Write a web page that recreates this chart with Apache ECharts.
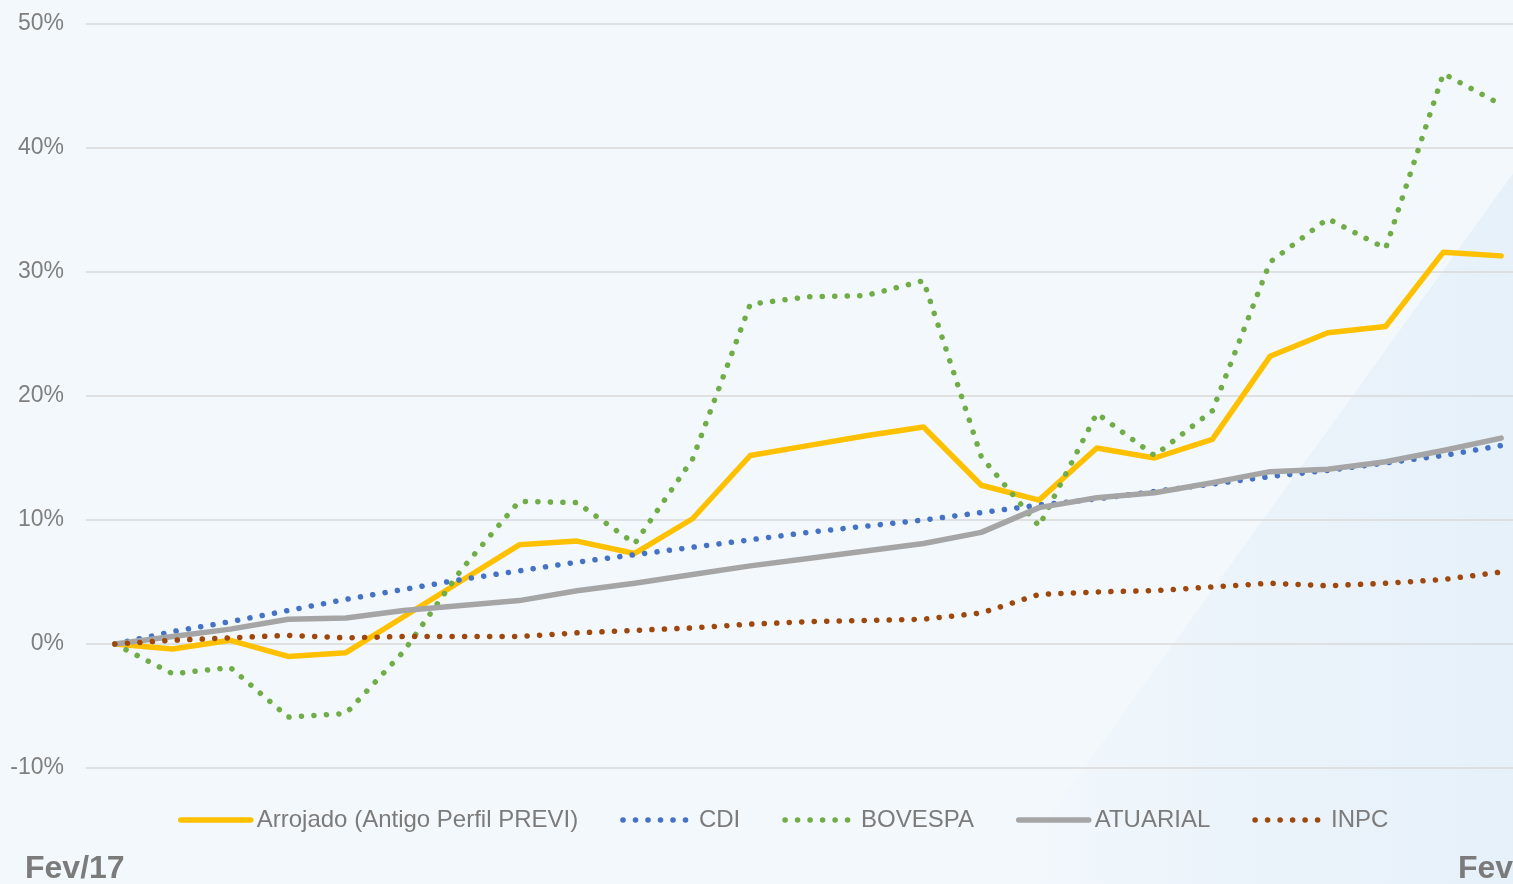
<!DOCTYPE html>
<html>
<head>
<meta charset="utf-8">
<title>Rentabilidade acumulada</title>
<script src="https://cdn.jsdelivr.net/npm/echarts@6/dist/echarts.min.js"></script>
<style>
  html, body { margin: 0; padding: 0; background: #f3f8fc; overflow: hidden; }
  /* the plot runs a little past the right edge of the window, as in the original */
  #chart { width: 1530px; height: 884px; }
</style>
</head>
<body>
<div id="chart"></div>
<script>
// meses de fev/17 a fev/19
const months = ['fev/17', 'mar/17', 'abr/17', 'mai/17', 'jun/17', 'jul/17', 'ago/17', 'set/17', 'out/17', 'nov/17', 'dez/17',
  'jan/18', 'fev/18', 'mar/18', 'abr/18', 'mai/18', 'jun/18', 'jul/18', 'ago/18', 'set/18', 'out/18', 'nov/18', 'dez/18',
  'jan/19', 'fev/19']

const arrojado = [0, -0.4, 0.3, -1.0, -0.7, 2.2, 5.1, 8.0, 8.3, 7.3, 10.1, 15.2, 16.0, 16.8, 17.5, 12.8, 11.6, 15.8, 15.0, 16.5, 23.2, 25.1, 25.6, 31.6, 31.3]
const cdi = [0, 1.0, 1.8, 2.7, 3.6, 4.4, 5.2, 5.9, 6.6, 7.2, 7.8, 8.4, 9.0, 9.5, 10.0, 10.6, 11.2, 11.7, 12.3, 12.9, 13.5, 14.0, 14.6, 15.2, 16.0]
const bovespa = [0, -2.4, -1.9, -5.9, -5.6, -0.6, 6.0, 11.5, 11.4, 8.1, 14.9, 27.4, 28.0, 28.1, 29.3, 15.1, 9.5, 18.6, 15.2, 18.8, 30.8, 34.3, 31.9, 46.0, 43.5]
const atuarial = [0, 0.6, 1.2, 2.0, 2.1, 2.7, 3.1, 3.5, 4.3, 4.9, 5.6, 6.3, 6.9, 7.5, 8.1, 9.0, 11.0, 11.8, 12.2, 13.0, 13.9, 14.1, 14.7, 15.6, 16.6]
const inpc = [0, 0.3, 0.5, 0.7, 0.5, 0.6, 0.6, 0.6, 0.9, 1.1, 1.3, 1.6, 1.8, 1.9, 2.0, 2.5, 4.0, 4.2, 4.3, 4.6, 4.9, 4.7, 4.9, 5.2, 5.8]

const periodLabels = ['Fev/17', 'Fev/19']

const font = '"Liberation Sans", Arial, sans-serif'

function solid (color) {
  return { color: color, width: 5.5, cap: 'round', join: 'round' }
}
function dotted (color) {
  return { color: color, width: 5.5, type: [0.1, 12.4], cap: 'round' }
}
function lineSeries (name, data, style) {
  return {
    name: name,
    type: 'line',
    data: data,
    symbol: 'none',
    smooth: false,
    color: style.color,
    lineStyle: style,
    emphasis: { disabled: true }
  }
}

const chart = echarts.init(document.getElementById('chart'))
chart.setOption({
  backgroundColor: '#f3f8fc',
  animation: false,
  textStyle: { fontFamily: font },
  grid: {
    left: 86,
    right: 0,
    top: 24,
    bottom: 116
  },
  graphic: [
    {
      type: 'polygon',
      z: -10,
      shape: { points: [[1000, 884], [1530, 150], [1530, 884]] },
      style: {
        fill: {
          type: 'linear', x: 0, y: 0, x2: 1, y2: 0,
          colorStops: [
            { offset: 0, color: 'rgba(214, 232, 246, 0)' },
            { offset: 0.4, color: 'rgba(214, 232, 246, 0.25)' },
            { offset: 1, color: 'rgba(205, 226, 244, 0.35)' }
          ]
        }
      }
    },
    {
      type: 'text',
      left: 25,
      top: 853,
      style: { text: periodLabels[0], font: 'bold 32px ' + font, fill: '#7b7b7b' }
    },
    {
      type: 'text',
      left: 1458,
      top: 853,
      style: { text: periodLabels[1], font: 'bold 32px ' + font, fill: '#7b7b7b' }
    }
  ],
  legend: {
    left: 178,
    top: 808,
    padding: 0,
    itemWidth: 70,
    itemHeight: 26,
    itemGap: 42,
    selectedMode: false,
    lineStyle: { width: 5.5, cap: 'round' },
    itemStyle: { opacity: 0 },
    textStyle: { fontFamily: font, fontSize: 24, color: '#7b7b7b', padding: [0, 0, 0, 1] },
    data: ['Arrojado (Antigo Perfil PREVI)', 'CDI', 'BOVESPA', 'ATUARIAL', 'INPC']
  },
  xAxis: {
    type: 'category',
    data: months,
    boundaryGap: true,
    axisLine: { show: false },
    axisTick: { show: false },
    axisLabel: { show: false },
    splitLine: { show: false }
  },
  yAxis: {
    type: 'value',
    min: -10,
    max: 50,
    interval: 10,
    axisLine: { show: false },
    axisTick: { show: false },
    axisLabel: {
      formatter: '{value}%',
      margin: 22,
      fontSize: 23,
      color: '#7f7f7f',
      fontFamily: font
    },
    splitLine: { lineStyle: { color: '#d9d9d9', width: 1.5 } }
  },
  series: [
    lineSeries('Arrojado (Antigo Perfil PREVI)', arrojado, solid('#ffc000')),
    lineSeries('CDI', cdi, dotted('#4472c4')),
    lineSeries('BOVESPA', bovespa, dotted('#70ad47')),
    lineSeries('ATUARIAL', atuarial, solid('#a5a5a5')),
    lineSeries('INPC', inpc, dotted('#9e480e'))
  ]
})
</script>
</body>
</html>
